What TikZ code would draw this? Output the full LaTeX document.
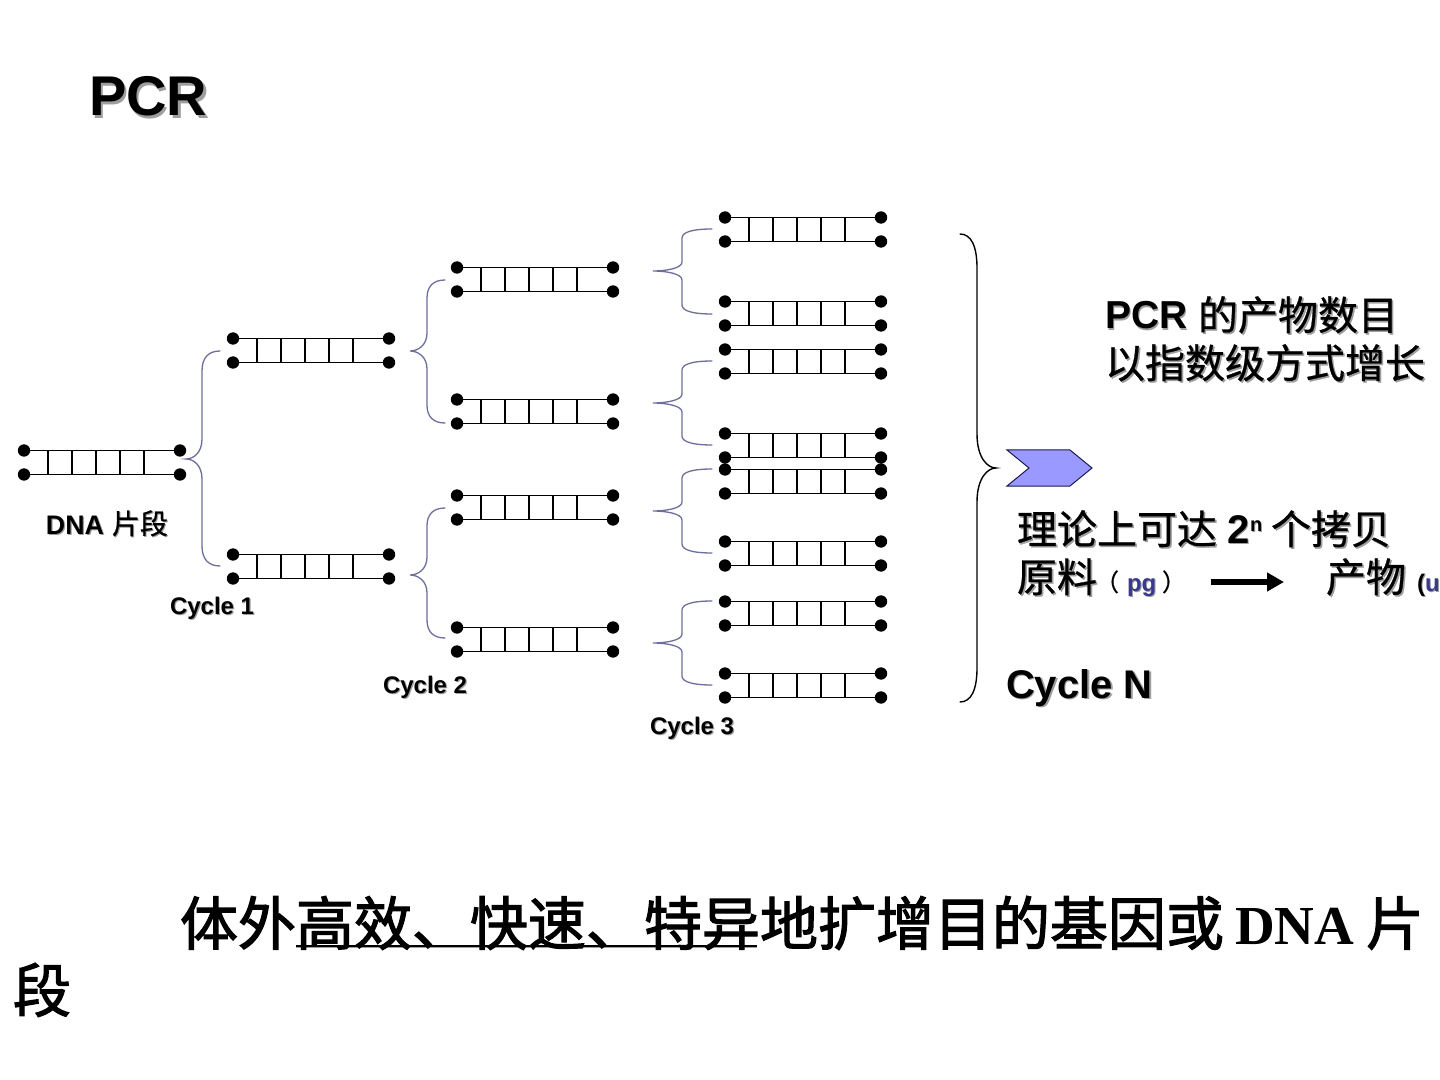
\documentclass[tikz,border=0pt]{standalone}
\usepackage{fontspec}
\usetikzlibrary{arrows.meta}
\setmainfont{Liberation Sans}
\newfontfamily\serifbold[BoldFont=Liberation Serif Bold]{Liberation Serif}
\newfontfamily\cjk[FakeBold=0.7]{Noto Sans CJK SC}
\newfontfamily\cjkb[FakeBold=2]{Noto Sans CJK SC}
\definecolor{softshadow}{gray}{0.62}
\definecolor{bracecol}{HTML}{6E6E9C}
\definecolor{unitblue}{HTML}{3A3A8C}
\definecolor{tagfill}{HTML}{9999FF}
\definecolor{tagline}{HTML}{1A1A50}
% Text with a small grey drop shadow
\newcommand{\shd}[2][0.8pt]{\leavevmode\rlap{\kern#1\raisebox{-#1}{\color{softshadow}#2}}#2}
% fsize helper: size in pt, with tight leading
\newcommand{\fs}[1]{\fontsize{#1}{#1}\selectfont}
\tikzset{
  strand/.style={line width=0.85pt,black},
  rung/.style={line width=0.7pt,black},
  enddot/.style={circle,fill=black,inner sep=0pt,minimum size=6.2pt},
  lbl/.style={anchor=base west,inner sep=0pt,outer sep=0pt},
  thinbrace/.style={line width=0.65pt,bracecol,line cap=round},
  bigbrace/.style={line width=0.7pt,black,line cap=round},
}
% One double strand: name, left x, top y
\newcommand{\ladder}[3]{%
  \node[enddot] (#1a) at (#2,{#3+0.5}) {};
  \node[enddot] (#1b) at ({#2+156},{#3+0.5}) {};
  \node[enddot] (#1c) at (#2,{#3+24.5}) {};
  \node[enddot] (#1d) at ({#2+156},{#3+24.5}) {};
  \draw[strand] (#1a.center) -- (#1b.center);
  \draw[strand] (#1c.center) -- (#1d.center);
  \foreach \k in {12,24,36,48,60}
    \draw[rung] ([xshift=\k pt]#1a.center) -- ([xshift=\k pt]#1c.center);
}
% Curly brace: style, open end x, spine x, tip x, top y, tip y, bottom y, bend size
\newcommand{\curly}[8]{%
  \draw[#1] (#2,#5)
    .. controls ({#3+(#2-#3)*.35},#5) and (#3,{#5+#8*.35}) .. (#3,{#5+#8})
    -- (#3,{#6-#8})
    .. controls (#3,{#6-#8*.3}) and ({#4+(#3-#4)*.45},#6) .. (#4,#6)
    .. controls ({#4+(#3-#4)*.45},#6) and (#3,{#6+#8*.3}) .. (#3,{#6+#8})
    -- (#3,{#7-#8})
    .. controls (#3,{#7-#8*.35}) and ({#3+(#2-#3)*.35},#7) .. (#2,#7);
}
\begin{document}
\begin{tikzpicture}[x=0.5pt,y=-0.5pt]
\path[use as bounding box,fill=white] (0,0) rectangle (1440,1080);
\clip (0,0) rectangle (1440,1080);

% Title
\node[lbl,font=\fs{28}\bfseries] (title) at (89,116) {\shd[1.3pt]{PCR}};

% Strands by cycle
\ladder{s}{24}{450}
\ladder{ca}{233}{338}
\ladder{cb}{233}{554}
\ladder{da}{457}{267}
\ladder{db}{457}{399}
\ladder{dc}{457}{495}
\ladder{dd}{457}{627}
\ladder{ea}{725}{217}
\ladder{eb}{725}{301}
\ladder{ec}{725}{349}
\ladder{ed}{725}{433}
\ladder{ee}{725}{469}
\ladder{ef}{725}{541}
\ladder{eg}{725}{601}
\ladder{eh}{725}{673}

% Braces between cycles
\curly{thinbrace}{220}{202}{186}{351}{459}{566}{20}
\curly{thinbrace}{445}{427}{410}{280}{351}{423}{18}
\curly{thinbrace}{445}{427}{410}{508}{575}{638}{18}
\curly{thinbrace}{712}{682}{653}{229}{271}{314}{9}
\curly{thinbrace}{712}{682}{653}{361}{403}{445}{9}
\curly{thinbrace}{712}{682}{653}{469}{511}{553}{9}
\curly{thinbrace}{712}{682}{653}{601}{643}{685}{9}
\curly{bigbrace}{960}{977}{996}{234}{468}{702}{34}

% Cycle labels
\node[lbl,font=\fs{13.4}\bfseries] (dnalbl) at (46,534) {\shd[0.6pt]{DNA}};
\node[lbl,font=\fs{14}\cjk] (dnacjk) at (112,534) {\shd[0.5pt]{片段}};
\node[lbl,font=\fs{12}\bfseries] (c1) at (170,614) {\shd[0.6pt]{Cycle 1}};
\node[lbl,font=\fs{12}\bfseries] (c2) at (383,693) {\shd[0.6pt]{Cycle 2}};
\node[lbl,font=\fs{12}\bfseries] (c3) at (650,734) {\shd[0.6pt]{Cycle 3}};
\node[lbl,font=\fs{20}\bfseries] (cn) at (1006,698) {\shd[0.9pt]{Cycle N}};

% Right-hand notes
\node[lbl,font=\fs{19.5}\bfseries] (n1a) at (1105,329) {\shd{PCR}};
\node[lbl,font=\fs{20}\cjk] (n1b) at (1198,330) {\shd{的产物数目}};
\node[lbl,font=\fs{20}\cjk] (n2) at (1105,378) {\shd{以指数级方式增长}};

% Chevron marker
\draw[tagline,fill=tagfill,line width=0.5pt]
  (1007,450) -- (1070,450) -- (1092,468) -- (1070,486) -- (1007,486) -- (1029,468) -- cycle;

\node[lbl,font=\fs{20}\cjk] (t1) at (1017,544) {\shd{理论上可达}};
\node[lbl,font=\fs{20}\bfseries] (t2) at (1227,543) {\shd{2}};
\node[lbl,font=\fs{10}\bfseries] (t3) at (1250,531) {\shd[0.5pt]{n}};
\node[lbl,font=\fs{20}\cjk] (t4) at (1271,544) {\shd{个拷贝}};

\node[lbl,font=\fs{20}\cjk] (r1) at (1017,592) {\shd{原料}};
\node[lbl,font=\fs{12}\cjk] (r2) at (1095,591) {（};
\node[lbl,font=\fs{12}\bfseries,text=unitblue] (r3) at (1127,591) {\shd[0.5pt]{pg}};
\node[lbl,font=\fs{12}\cjk] (r4) at (1162,591) {）};
\coordinate (ra) at (1211,582);
\coordinate (rb) at (1284,582);
\draw[line width=3pt,black,-{Triangle[length=8.5pt,width=9pt]}] (ra) -- (rb);
\node[lbl,font=\fs{20}\cjk] (p1) at (1326,592) {\shd{产物}};
\node[lbl,font=\fs{12}\bfseries] (p2) at (1417,591) {\shd[0.5pt]{(}};
\node[lbl,font=\fs{12}\bfseries,text=unitblue] (p3) at (1425,591) {\shd[0.5pt]{u}};

% Bottom sentence
\coordinate (ula) at (296,946);
\coordinate (ulb) at (757,946);
\draw[softshadow,line width=0.8pt] ([yshift=-0.6pt]ula) -- ([yshift=-0.6pt]ulb);
\draw[black,line width=0.6pt] (ula) -- (ulb);
\node[lbl,font=\fs{29}\cjkb] (b1) at (180,945) {体外高效、快速、特异地扩增目的基因或};
\node[lbl,font=\fs{27.5}\serifbold\bfseries] (b2) at (1235,944) {DNA};
\node[lbl,font=\fs{29}\cjkb] (b3) at (1366,945) {片};
\node[lbl,font=\fs{29}\cjkb] (b4) at (13,1012) {段};
\end{tikzpicture}
\end{document}
